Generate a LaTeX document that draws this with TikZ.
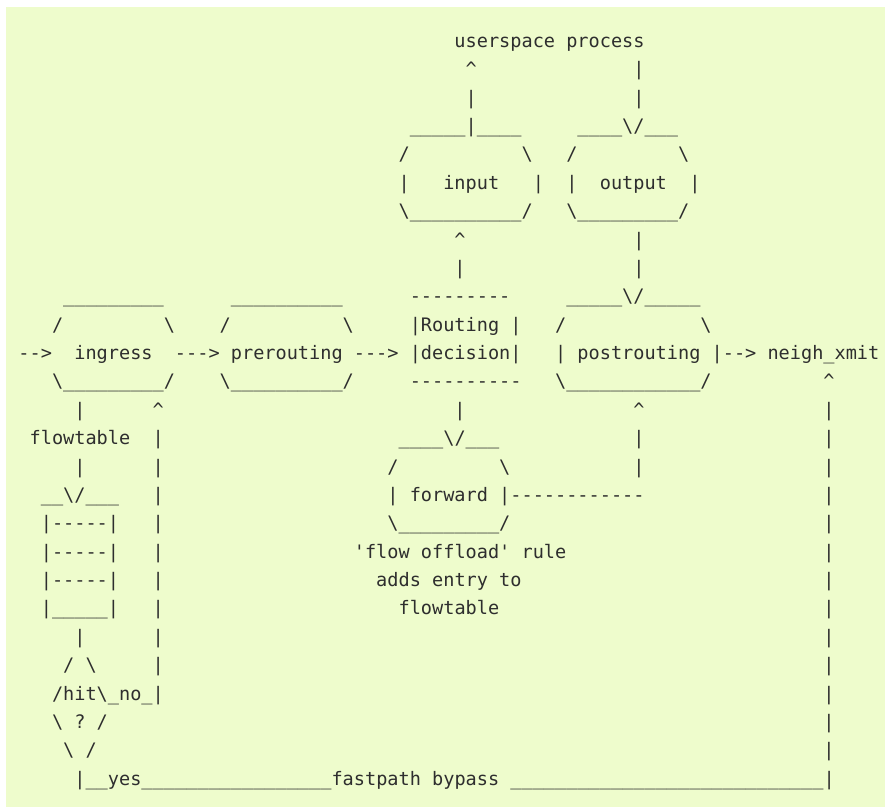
\documentclass[tikz,border=0pt]{standalone}
\usepackage{fontspec}
\setmonofont{DejaVu Sans Mono}
\definecolor{pagebg}{RGB}{238,252,204}
\definecolor{ink}{RGB}{46,46,46}
\ExplSyntaxOn
\NewDocumentCommand\repch{mm}{\prg_replicate:nn{#1}{#2}}
\ExplSyntaxOff
\newcommand\bs{\textbackslash}
\newcommand\caret{\textasciicircum}
% one fixed-pitch character cell: 11.18 px wide, 28.37 px line pitch
\tikzset{asc/.style={anchor=base west, inner sep=0pt, outer sep=0pt, text=ink,
  font=\ttfamily\fontsize{13.93pt}{16pt}\selectfont\frenchspacing}}
\newcommand\cellat[4]{\node[asc] (#1) at ({11.18*#2-3.89},{-47.5-28.37*#3}) {#4};}
\begin{document}
\begin{tikzpicture}[x=0.75pt,y=0.75pt]
\useasboundingbox (0,0) rectangle (885,-807);
\fill[white] (0,0) rectangle (885,-807);
\fill[pagebg] (6,-7) rectangle (885,-807);
% userspace, input and output hooks
\cellat{usp}{41}{0}{userspace process}
\cellat{inUpA}{42}{1}{\caret} \cellat{outDnA}{57}{1}{|}
\cellat{inUpB}{42}{2}{|} \cellat{outDnB}{57}{2}{|}
\cellat{inTop}{37}{3}{\repch{5}{\_}|\repch{4}{\_}} \cellat{outTop}{52}{3}{\repch{4}{\_}\bs/\repch{3}{\_}}
\cellat{inTL}{36}{4}{/} \cellat{inTR}{47}{4}{\bs} \cellat{outTL}{51}{4}{/} \cellat{outTR}{61}{4}{\bs}
\cellat{inL}{36}{5}{|} \cellat{input}{40}{5}{input} \cellat{inR}{48}{5}{|}
\cellat{outL}{51}{5}{|} \cellat{output}{54}{5}{output} \cellat{outR}{62}{5}{|}
\cellat{inBot}{36}{6}{\bs\repch{10}{\_}/} \cellat{outBot}{51}{6}{\bs\repch{9}{\_}/}
\cellat{rtUpA}{41}{7}{\caret} \cellat{outDnC}{57}{7}{|}
\cellat{rtUpB}{41}{8}{|} \cellat{outDnD}{57}{8}{|}
% main row of hooks
\cellat{ingTop}{6}{9}{\repch{9}{\_}} \cellat{preTop}{21}{9}{\repch{10}{\_}}
\cellat{rtTop}{37}{9}{---------} \cellat{postTop}{51}{9}{\repch{5}{\_}\bs/\repch{5}{\_}}
\cellat{ingTL}{5}{10}{/} \cellat{ingTR}{15}{10}{\bs} \cellat{preTL}{20}{10}{/} \cellat{preTR}{31}{10}{\bs}
\cellat{routing}{37}{10}{|Routing |} \cellat{postTL}{50}{10}{/} \cellat{postTR}{63}{10}{\bs}
\cellat{inArrow}{2}{11}{-->} \cellat{ingress}{7}{11}{ingress} \cellat{ingToPre}{16}{11}{--->}
\cellat{prerouting}{21}{11}{prerouting} \cellat{preToRt}{32}{11}{--->} \cellat{decision}{37}{11}{|decision|}
\cellat{postL}{50}{11}{|} \cellat{postrouting}{52}{11}{postrouting} \cellat{postToXmit}{64}{11}{|-->}
\cellat{xmit}{69}{11}{neigh\_xmit}
\cellat{ingBot}{5}{12}{\bs\repch{9}{\_}/} \cellat{preBot}{20}{12}{\bs\repch{10}{\_}/}
\cellat{rtBot}{37}{12}{----------} \cellat{postBot}{50}{12}{\bs\repch{12}{\_}/} \cellat{xmitUp}{74}{12}{\caret}
% flowtable lookup, forward hook and bypass path
\cellat{ftDnA}{7}{13}{|} \cellat{noUp}{14}{13}{\caret} \cellat{fwdDnA}{41}{13}{|} \cellat{postUp}{57}{13}{\caret} \cellat{bypA}{74}{13}{|}
\cellat{flowtable}{3}{14}{flowtable} \cellat{noB}{14}{14}{|} \cellat{fwdTop}{36}{14}{\repch{4}{\_}\bs/\repch{3}{\_}}
\cellat{postUpB}{57}{14}{|} \cellat{bypB}{74}{14}{|}
\cellat{ftDnB}{7}{15}{|} \cellat{noC}{14}{15}{|} \cellat{fwdTL}{35}{15}{/} \cellat{fwdTR}{45}{15}{\bs}
\cellat{postUpC}{57}{15}{|} \cellat{bypC}{74}{15}{|}
\cellat{ftTop}{4}{16}{\_\_\bs/\_\_\_} \cellat{noD}{14}{16}{|} \cellat{fwdL}{35}{16}{|} \cellat{forward}{37}{16}{forward}
\cellat{fwdToPost}{45}{16}{|------------} \cellat{bypD}{74}{16}{|}
\cellat{ftRowA}{4}{17}{|-----|} \cellat{noE}{14}{17}{|} \cellat{fwdBot}{35}{17}{\bs\repch{9}{\_}/} \cellat{bypE}{74}{17}{|}
\cellat{ftRowB}{4}{18}{|-----|} \cellat{noF}{14}{18}{|} \cellat{ruleA}{32}{18}{'flow offload' rule} \cellat{bypF}{74}{18}{|}
\cellat{ftRowC}{4}{19}{|-----|} \cellat{noG}{14}{19}{|} \cellat{ruleB}{34}{19}{adds entry to} \cellat{bypG}{74}{19}{|}
\cellat{ftRowD}{4}{20}{|\repch{5}{\_}|} \cellat{noH}{14}{20}{|} \cellat{ruleC}{36}{20}{flowtable} \cellat{bypH}{74}{20}{|}
\cellat{hitDn}{7}{21}{|} \cellat{noI}{14}{21}{|} \cellat{bypI}{74}{21}{|}
\cellat{qTop}{6}{22}{/ \bs} \cellat{noJ}{14}{22}{|} \cellat{bypJ}{74}{22}{|}
\cellat{qHit}{5}{23}{/hit\bs\_no\_|} \cellat{bypK}{74}{23}{|}
\cellat{qMid}{5}{24}{\bs\ ? /} \cellat{bypL}{74}{24}{|}
\cellat{qBot}{6}{25}{\bs\ /} \cellat{bypM}{74}{25}{|}
\cellat{bypass}{7}{26}{|\_\_yes\repch{17}{\_}fastpath bypass \repch{28}{\_}|}
\end{tikzpicture}
\end{document}
